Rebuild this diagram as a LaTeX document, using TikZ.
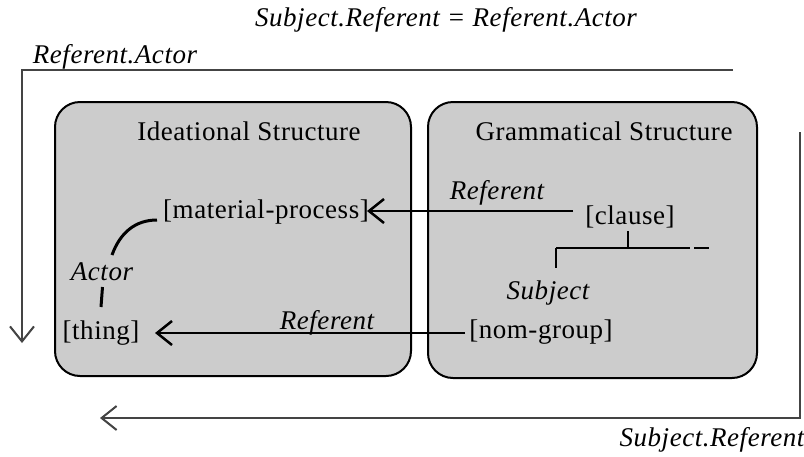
\documentclass[tikz,border=0pt]{standalone}
\usepackage{fontspec}
\setmainfont{Liberation Serif}[LetterSpace=2]
\usetikzlibrary{arrows.meta,calc}
\definecolor{boxgray}{HTML}{CCCCCC}
\definecolor{outergray}{HTML}{444444}
\begin{document}
\begin{tikzpicture}[x=1pt,y=-1pt,
  txt/.style={font=\fontsize{27}{32}\selectfont, inner sep=0pt, anchor=center},
  itl/.style={font=\fontsize{27}{32}\selectfont\itshape, inner sep=0pt, anchor=center},
  panel/.style={draw=black, line width=2pt, fill=boxgray, rounded corners=25pt},
  outerline/.style={draw=outergray, line width=2pt, -{Straight Barb[length=15pt,width=24pt,line width=2pt]}},
  conn/.style={draw=black, line width=2.5pt},
  arr/.style={conn, -{Straight Barb[length=15pt,width=24pt,line width=2.5pt]}}
]
\useasboundingbox (0,0) rectangle (804,456);
\fill[white] (0,0) rectangle (804,456);

% panels
\draw[panel] (55,102) rectangle (411,376);
\draw[panel] (428,102) rectangle (757,378);

% texts
\node[itl] (title) at (446,20) {Subject.Referent = Referent.Actor};
\node[itl] (ra) at (115,57) {Referent.Actor};
\node[itl] (sr) at (712,440) {Subject.Referent};
\node[txt] (ideat) at (249,131) {Ideational Structure};
\node[txt] (gram) at (604,131) {Grammatical Structure};
\node[txt] (mp) at (266,212) {[material-process]};
\node[txt] (clause) at (630,217) {[clause]};
\node[itl] (ref1) at (497,193) {Referent};
\node[itl] (subj) at (548,293) {Subject};
\node[txt] (ng) at (541,332) {[nom-group]};
\node[itl] (ref2) at (327,323) {Referent};
\node[txt] (thing) at (101,333) {[thing]};
\node[itl] (actor) at (102,272) {Actor};

% outer loops
\coordinate (tr) at (733,70);
\coordinate (tl) at (22,70);
\coordinate (ld) at (22,343);
\draw[outerline] (tr) -- (tl) -- (ld);
\coordinate (rt) at (800,132);
\coordinate (rb) at (800,418);
\coordinate (bl) at (100,418);
\draw[outerline] (rt) -- (rb) -- (bl);

% referent arrows
\draw[arr] ($(clause.center)+(-57,-6)$) -- ($(mp.center)+(101,-1)$);
\draw[arr] ($(ng.center)+(-76,1)$) -- ($(thing.center)+(54,0)$);

% actor links
\draw[conn, line width=3pt] ($(actor.center)+(10,-17)$) .. controls +(8,-22) and +(-22,0) .. ($(mp.center)+(-109,8)$);
\draw[conn, line width=3pt] ($(actor.center)+(0.5,15)$) -- ($(thing.center)+(0,-26)$);

% grammatical tree
\coordinate (tj) at (628,248);
\coordinate (tleft) at (556,248);
\coordinate (tend) at (690,248);
\coordinate (dash1) at (694,248);
\coordinate (dash2) at (709,248);
\draw[conn] ($(clause.center)+(-2,14)$) -- (tj);
\draw[conn] (tleft) -- (tend);
\draw[conn] (dash1) -- (dash2);
\draw[conn] (tleft) -- ($(subj.center)+(8,-25)$);
\end{tikzpicture}
\end{document}
